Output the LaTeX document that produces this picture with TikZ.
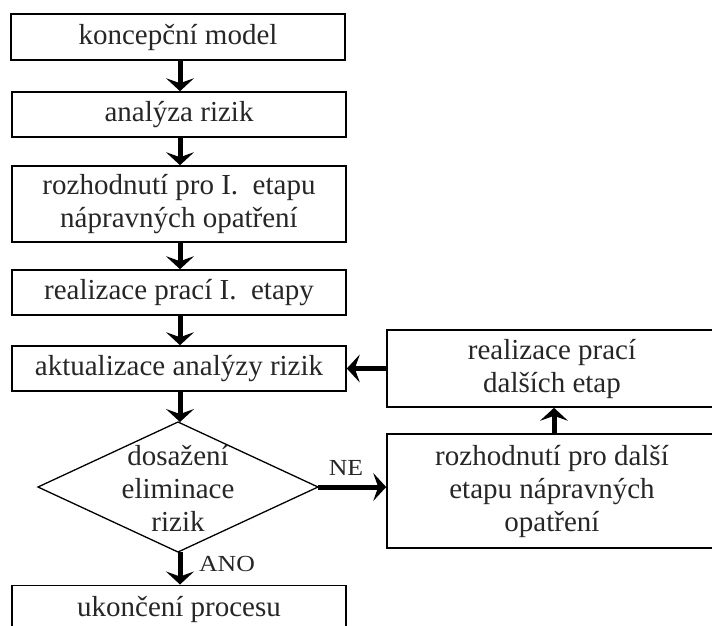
\documentclass[tikz,border=0pt]{standalone}
\usepackage{fontspec}
\setmainfont{Liberation Serif}
\newfontfamily\lblfont[FakeStretch=1.12]{Liberation Serif}
\usetikzlibrary{arrows.meta}
\begin{document}
\begin{tikzpicture}[x=1pt,y=-1pt,
  every node/.style={font=\fontsize{29}{33}\selectfont, text=black!85},
  box/.style={draw, line width=1.6pt, minimum width=334pt, align=center, inner sep=0pt},
  flow/.style={line width=5pt, -{Stealth[length=13pt,width=28pt,inset=5pt]}},
  lbl/.style={font=\lblfont\fontsize{23}{26}\selectfont}
]
\useasboundingbox (0,0) rectangle (712,625);

% main column
\node[box, minimum height=46pt] (m1) at (178,37) {koncepční model};
\node[box, minimum height=45pt] (m2) at (179,114.5) {analýza rizik};
\node[box, minimum height=76pt] (m3) at (179,204) {rozhodnutí pro I.~~etapu\\nápravných opatření};
\node[box, minimum height=45pt] (m4) at (179,292.5) {realizace prací I.~~etapy};
\node[box, minimum height=45pt] (m5) at (179,368.5) {aktualizace analýzy rizik};

% decision diamond
\coordinate (dtop) at (178,422);
\coordinate (dbot) at (178,552);
\coordinate (dright) at (318,487);
\coordinate (dleft) at (38,487);
\draw[line width=1.3pt] (dtop) -- (dright) -- (dbot) -- (dleft) -- cycle;
\node[align=center] (d) at (178,488) {dosažení\\eliminace\\rizik};

\node[box, minimum height=60pt, anchor=north] (end) at (179,584.5) {};
\node (endtext) at (179,609) {ukončení procesu};

% right column
\node[box, minimum width=330pt, minimum height=77pt] (r1) at (552,368.5) {realizace prací\\dalších etap};
\node[box, minimum width=330pt, minimum height=114pt] (r2) at (552,491) {rozhodnutí pro další\\etapu nápravných\\opatření};

% connectors
\draw[flow] (m1.south -| 180,0) -- (m2.north -| 180,0);
\draw[flow] (m2.south -| 180,0) -- (m3.north -| 180,0);
\draw[flow] (m3.south -| 180,0) -- (m4.north -| 180,0);
\draw[flow] (m4.south -| 180,0) -- (m5.north -| 180,0);
\draw[flow] (m5.south -| 180,0) -- (dtop -| 180,0);
\draw[flow] (dbot -| 180,0) -- (end.north -| 180,0);
\draw[flow] (dright) -- (r2.west |- dright);
\node[lbl] (ne) at (346,468) {NE};
\draw[flow] (r2.north -| 554,0) -- (r1.south -| 554,0);
\draw[flow] (r1.west) -- (m5.east);
\node[lbl] (ano) at (227,564) {ANO};
\end{tikzpicture}
\end{document}
